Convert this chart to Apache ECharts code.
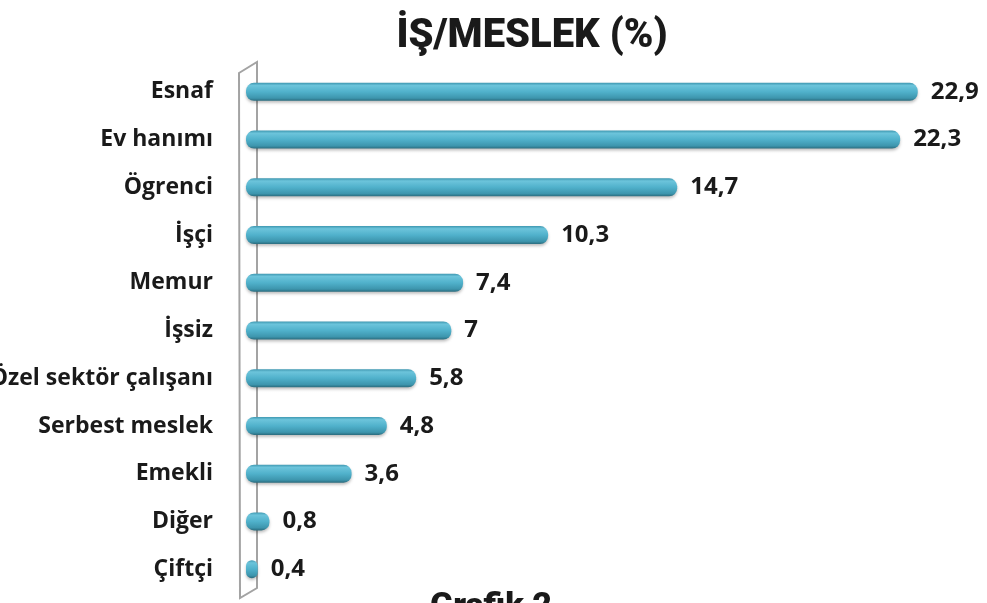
<!DOCTYPE html>
<html>
<head>
<meta charset="utf-8">
<script src="https://cdn.jsdelivr.net/npm/echarts@6/dist/echarts.min.js"></script>
<style>
  html, body { margin: 0; padding: 0; background: #fff; }
  #chart { width: 987px; height: 603px; }
</style>
</head>
<body>
<div id="chart"></div>
<script>
// meslek kategorileri ve yuzdeleri
var categories = ['Esnaf', 'Ev hanımı', 'Ögrenci', 'İşçi', 'Memur', 'İşsiz',
  'Özel sektör çalışanı', 'Serbest meslek', 'Emekli', 'Diğer', 'Çiftçi'];
var values = [22.9, 22.3, 14.7, 10.3, 7.4, 7, 5.8, 4.8, 3.6, 0.8, 0.4];

var myChart = echarts.init(document.getElementById('chart'));

var option = {
  backgroundColor: '#fff',
  title: {
    text: 'İŞ/MESLEK (%)',
    left: 527,
    top: 12,
    textAlign: 'center',
    textStyle: {
      fontFamily: 'Roboto',
      fontWeight: 900,
      fontSize: 40,
      color: '#1a1a1a'
    }
  },
  grid: {
    left: 246,
    right: 37,
    top: 68,
    bottom: 10,
    containLabel: false,
    outerBoundsMode: 'none'
  },
  xAxis: {
    type: 'value',
    min: 0,
    max: 24,
    show: false
  },
  yAxis: {
    type: 'category',
    data: categories,
    inverse: true,
    axisLine: { show: false },
    axisTick: { show: false },
    axisLabel: {
      margin: 33,
      fontFamily: 'Open Sans',
      fontWeight: 'bold',
      fontSize: 23,
      color: '#1a1a1a'
    }
  },
  graphic: [
    {
      // 3B duvar cizgisi
      type: 'polygon',
      z: -1,
      shape: { points: [[239, 73], [257, 62], [257, 588], [240, 598]] },
      style: { fill: 'none', stroke: '#a3a3a3', lineWidth: 2 }
    },
    {
      type: 'text',
      left: 430,
      top: 590,
      style: {
        text: 'Grafik 2',
        fontFamily: 'Roboto',
        fontWeight: 900,
        fontSize: 34,
        fill: '#1a1a1a'
      }
    }
  ],
  series: [
    {
      type: 'bar',
      data: values,
      barWidth: 18,
      z: 10,
      itemStyle: {
        borderRadius: 8,
        color: new echarts.graphic.LinearGradient(0, 0, 0, 1, [
          { offset: 0, color: '#3f98b1' },
          { offset: 0.15, color: '#6cc4db' },
          { offset: 0.5, color: '#50b1cb' },
          { offset: 0.85, color: '#3d95ad' },
          { offset: 1, color: '#2a6b7d' }
        ]),
        shadowColor: 'rgba(0,0,0,0.25)',
        shadowBlur: 3,
        shadowOffsetY: 2
      },
      label: {
        show: true,
        position: 'right',
        distance: 13,
        fontFamily: 'Open Sans',
        fontWeight: 'bold',
        fontSize: 24,
        color: '#1a1a1a',
        formatter: function (p) {
          return String(p.value).replace('.', ',');
        }
      }
    }
  ]
};

myChart.setOption(option);
</script>
</body>
</html>
